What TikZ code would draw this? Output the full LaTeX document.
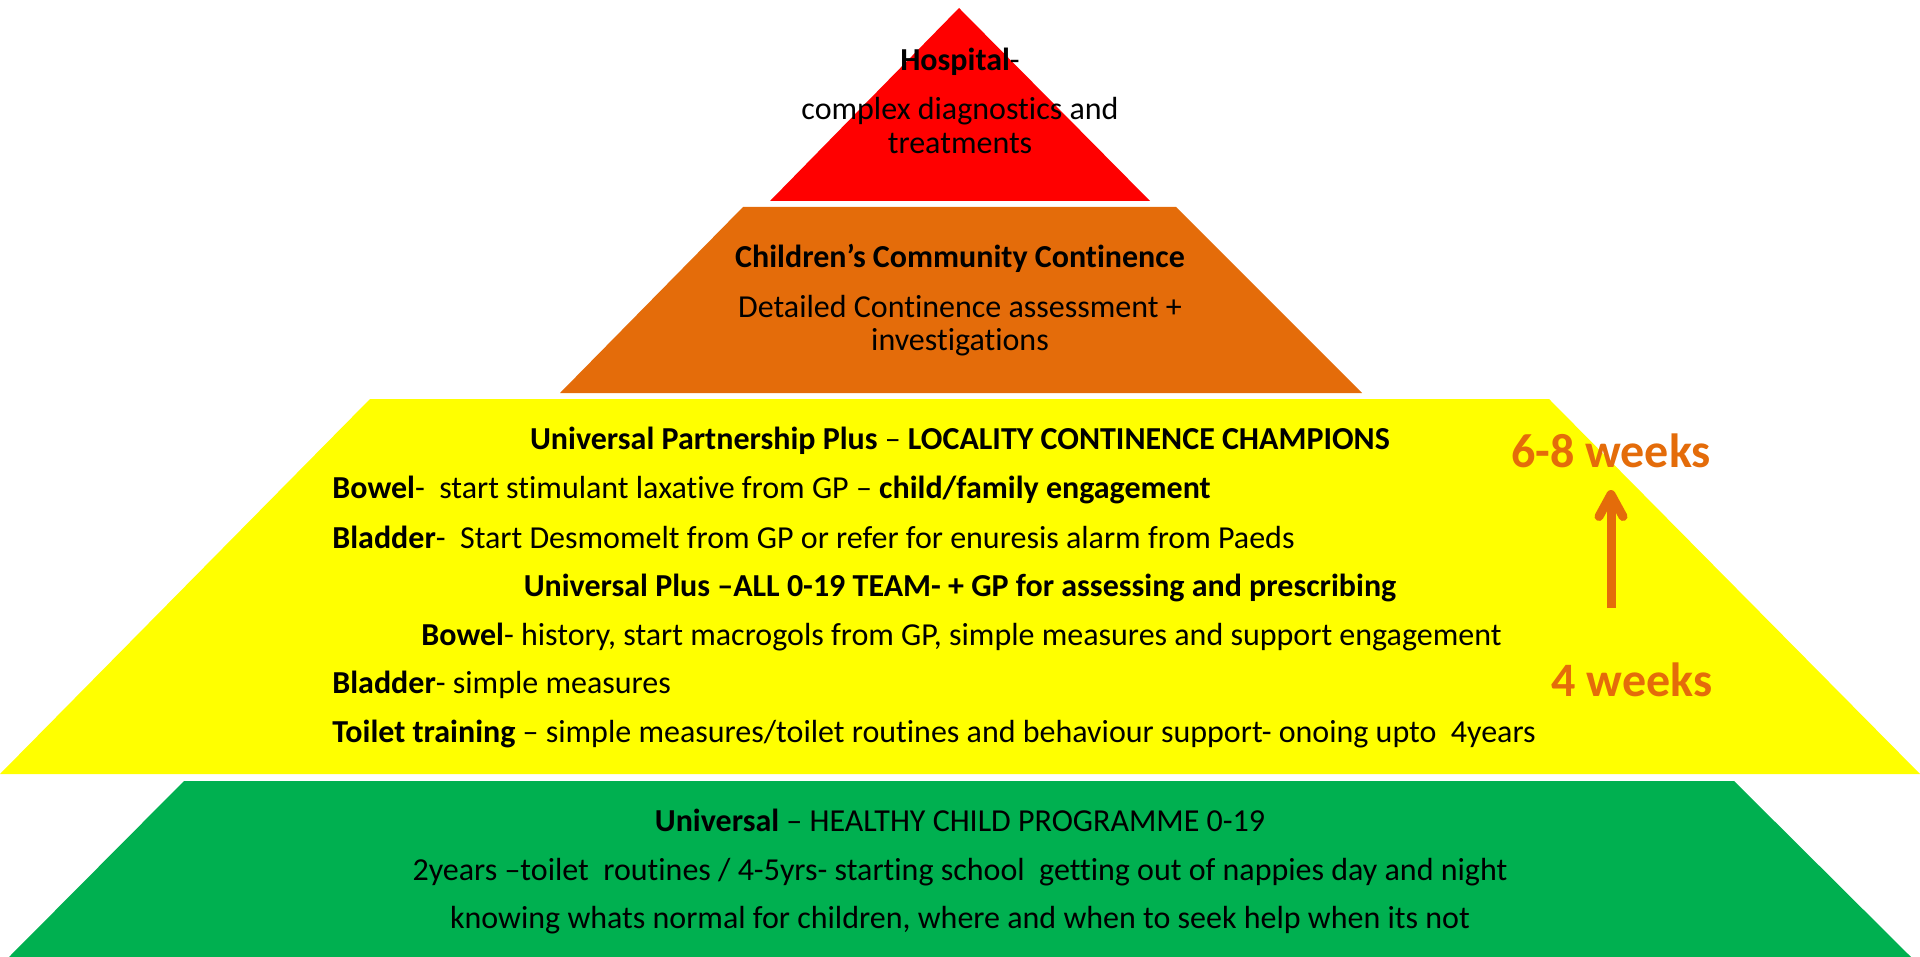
\documentclass[tikz,border=0pt]{standalone}
\usepackage{fontspec}
\setmainfont{Carlito}[Ligatures={NoCommon}]
\usetikzlibrary{positioning,arrows.meta}
\definecolor{hospred}{HTML}{FF0000}
\definecolor{commorange}{HTML}{E46C0A}
\definecolor{uniyellow}{HTML}{FFFF00}
\definecolor{unigreen}{HTML}{00B050}

\begin{document}
\begin{tikzpicture}[x=0.5pt, y=-0.5pt,
  tiertxt/.style={font=\fontsize{16}{19}\selectfont, inner sep=0pt, anchor=base},
  tierleft/.style={tiertxt, anchor=base west},
  weeks/.style={font=\fontsize{24}{28}\selectfont\bfseries, text=commorange, inner sep=0pt, anchor=base},
  weekarrow/.style={draw=commorange, line width=4.5pt, -{Straight Barb[length=11pt, width=12pt, round]}}]
\useasboundingbox (0,0) rectangle (1920,957);

\fill[hospred] (959,8) -- (1150,201) -- (770,201) -- cycle;
\fill[commorange] (743,207) -- (1176,207) -- (1362,393) -- (560,393) -- cycle;
\fill[uniyellow] (370,399) -- (1549,399) -- (1920,774) -- (0,774) -- cycle;
\fill[unigreen] (184,781) -- (1734,781) -- (1911,957) -- (9,957) -- cycle;

\node[tiertxt] (hosp) at (960,71) {\textbf{Hospital}-};
\node[tiertxt] (hosp2) at (960,120) {complex diagnostics and};
\node[tiertxt] (hosp3) at (960,154) {treatments};

\node[tiertxt] (ccc) at (960,267) {\textbf{Children’s Community Continence}};
\node[tiertxt] (ccc2) at (960,317) {Detailed Continence assessment +};
\node[tiertxt] (ccc3) at (960,350) {investigations};

\node[tiertxt] (upp) at (960,449) {\textbf{Universal Partnership Plus} – \textbf{LOCALITY CONTINENCE CHAMPIONS}};
\node[tierleft] (uppbowel) at (332,498) {\textbf{Bowel}-\ \ start stimulant laxative from GP – \textbf{child/family engagement}};
\node[tierleft] (uppbladder) at (332,548) {\textbf{Bladder}-\ \ Start Desmomelt from GP or refer for enuresis alarm from Paeds};
\node[tiertxt] (up) at (960,596) {\textbf{Universal Plus –ALL 0-19 TEAM- + GP for assessing and prescribing}};
\node[tierleft] (upbowel) at (421,645) {\textbf{Bowel}- history, start macrogols from GP, simple measures and support engagement};
\node[tierleft] (upbladder) at (332,693) {\textbf{Bladder}- simple measures};
\node[tierleft] (uptoilet) at (332,742) {\textbf{Toilet training} – simple measures/toilet routines and behaviour support- onoing upto\ \ 4years};

\node[weeks] (sixwk) at (1611,467) {6-8 weeks};
\node[weeks] (fourwk) at (1632,696) {4 weeks};
\coordinate (arrowfoot) at (1611,608);
\coordinate (arrowtip) at (1611,490);
\draw[weekarrow] (arrowfoot) -- (arrowtip);

\node[tiertxt] (uni) at (960,831) {\textbf{Universal} – HEALTHY CHILD PROGRAMME 0-19};
\node[tiertxt] (uni2) at (960,880) {2years –toilet\ \ routines / 4-5yrs- starting school\ \ getting out of nappies day and night};
\node[tiertxt] (uni3) at (960,928) {knowing whats normal for children, where and when to seek help when its not};
\end{tikzpicture}
\end{document}
